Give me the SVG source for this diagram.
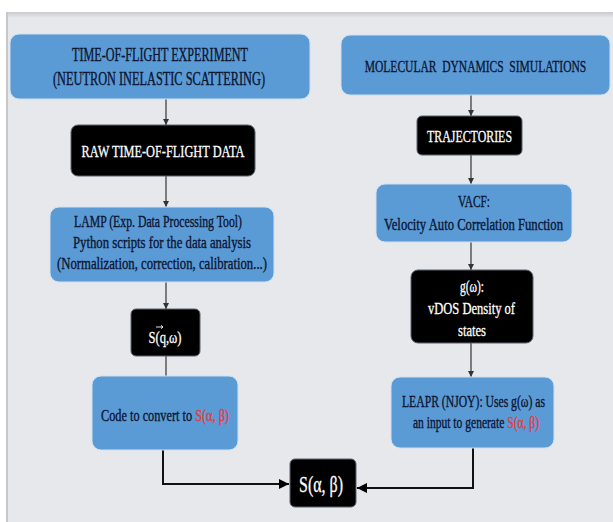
<svg xmlns="http://www.w3.org/2000/svg" width="613" height="522" viewBox="0 0 613 522">
<defs>
<linearGradient id="topShade" x1="0" y1="0" x2="0" y2="1">
<stop offset="0" stop-color="#c9cacd"/>
<stop offset="1" stop-color="#e7e8eb"/>
</linearGradient>
<marker id="ah" markerWidth="6" markerHeight="6" refX="6" refY="3" orient="auto" markerUnits="userSpaceOnUse">
<path d="M0,0 L6,3 L0,6 z" fill="#333"/>
</marker>
<marker id="ahb" markerWidth="10" markerHeight="10" refX="10" refY="5" orient="auto" markerUnits="userSpaceOnUse">
<path d="M0,0 L10,5 L0,10 z" fill="#000"/>
</marker>
</defs>
<style>
.blue{fill:#5b9bd5;stroke:#cfe0f2;stroke-width:1}
.black{fill:#000;stroke:#5a6270;stroke-width:1}
.t{font-family:"Liberation Serif","DejaVu Serif",serif;text-anchor:middle;fill:#0b1533;stroke:#0b1533;stroke-width:0.35}
.w{font-family:"Liberation Serif","DejaVu Serif",serif;text-anchor:middle;fill:#fff;stroke:#fff;stroke-width:0.3}
.red{fill:#e8383d;stroke:#e8383d}
.thin{stroke:#333;stroke-width:1.2;fill:none}
.thick{stroke:#111;stroke-width:2;fill:none}
</style>
<rect x="0" y="0" width="613" height="522" fill="#ffffff"/>
<rect x="6" y="12" width="607" height="510" fill="#e7e8eb"/>
<rect x="6" y="12" width="607" height="6" fill="url(#topShade)"/>
<rect x="6" y="12" width="2" height="510" fill="#c6c7ca"/>

<g id="connectors">
<line class="thin" x1="166" y1="99" x2="166" y2="125" marker-end="url(#ah)"/>
<line class="thin" x1="166" y1="176" x2="166" y2="207" marker-end="url(#ah)"/>
<line class="thin" x1="166" y1="282" x2="166" y2="309" marker-end="url(#ah)"/>
<line class="thin" x1="166" y1="356" x2="166" y2="376"/>
<line class="thin" x1="471" y1="95" x2="471" y2="116" marker-end="url(#ah)"/>
<line class="thin" x1="471" y1="155" x2="471" y2="184" marker-end="url(#ah)"/>
<line class="thin" x1="471" y1="242" x2="471" y2="270" marker-end="url(#ah)"/>
<line class="thin" x1="471" y1="343" x2="471" y2="377" marker-end="url(#ah)"/>
<path class="thick" d="M163,450 V484 H289" marker-end="url(#ahb)"/>
<path class="thick" d="M473,448 V488 H357" marker-end="url(#ahb)"/>
</g>

<g id="tof">
<rect class="blue" x="10" y="34" width="300" height="65" rx="9"/>
<text class="t" x="160" y="61" font-size="18" textLength="176" lengthAdjust="spacingAndGlyphs">TIME-OF-FLIGHT  EXPERIMENT</text>
<text class="t" x="159" y="85" font-size="18" textLength="212" lengthAdjust="spacingAndGlyphs">(NEUTRON INELASTIC SCATTERING)</text>
</g>

<g id="md">
<rect class="blue" x="341" y="35" width="269" height="60" rx="9"/>
<text class="t" transform="translate(475.5,72) scale(0.68,1)" font-size="17" word-spacing="4">MOLECULAR DYNAMICS SIMULATIONS</text>
</g>

<g id="raw">
<rect class="black" x="71" y="125" width="184" height="51" rx="7"/>
<text class="w" x="163" y="157" font-size="17" textLength="163" lengthAdjust="spacingAndGlyphs">RAW TIME-OF-FLIGHT DATA</text>
</g>

<g id="lamp">
<rect class="blue" x="50" y="207" width="224" height="75" rx="9"/>
<text class="t" x="158" y="227" font-size="16.5" textLength="168" lengthAdjust="spacingAndGlyphs">LAMP (Exp. Data Processing Tool)</text>
<text class="t" x="162" y="248" font-size="16.5" textLength="178" lengthAdjust="spacingAndGlyphs">Python scripts for the data analysis</text>
<text class="t" x="162" y="269" font-size="16.5" textLength="210" lengthAdjust="spacingAndGlyphs">(Normalization, correction, calibration...)</text>
</g>

<g id="sq">
<rect class="black" x="131" y="309" width="69" height="47" rx="5"/>
<text class="w" x="165" y="343" font-size="16" textLength="33" lengthAdjust="spacingAndGlyphs">S(q,ω)</text>
<path d="M156,327 H163 M161,325.3 L163,327 L161,328.7" stroke="#fff" stroke-width="0.9" fill="none"/>
</g>

<g id="code">
<rect class="blue" x="92" y="376" width="146" height="74" rx="9"/>
<text class="t" transform="translate(165,421) scale(0.745,1)" font-size="16.5">Code to convert to <tspan class="red">S(α, β)</tspan></text>
</g>

<g id="traj">
<rect class="black" x="417" y="116" width="105" height="39" rx="5"/>
<text class="w" x="469.5" y="142" font-size="17" textLength="85" lengthAdjust="spacingAndGlyphs">TRAJECTORIES</text>
</g>

<g id="vacf">
<rect class="blue" x="376" y="184" width="196" height="58" rx="9"/>
<text class="t" x="474" y="207" font-size="16.5" textLength="32" lengthAdjust="spacingAndGlyphs">VACF:</text>
<text class="t" x="473.5" y="230" font-size="16" textLength="179" lengthAdjust="spacingAndGlyphs">Velocity Auto Correlation Function</text>
</g>

<g id="gw">
<rect class="black" x="411" y="270" width="122" height="73" rx="7"/>
<text class="w" x="472" y="292" font-size="16.5" textLength="24" lengthAdjust="spacingAndGlyphs">g(ω):</text>
<text class="w" x="471.5" y="314" font-size="16.5" textLength="87" lengthAdjust="spacingAndGlyphs">vDOS Density of</text>
<text class="w" x="472" y="336" font-size="16.5" textLength="28" lengthAdjust="spacingAndGlyphs">states</text>
</g>

<g id="leapr">
<rect class="blue" x="391" y="377" width="163" height="71" rx="9"/>
<text class="t" x="473.5" y="407" font-size="16.5" textLength="143" lengthAdjust="spacingAndGlyphs">LEAPR (NJOY): Uses g(ω) as</text>
<text class="t" transform="translate(476,428) scale(0.70,1)" font-size="16.5">an input to generate <tspan class="red">S(α, β)</tspan></text>
</g>

<g id="sab">
<rect class="black" x="290" y="459" width="66" height="48" rx="5"/>
<text class="w" x="321" y="492" font-size="24" textLength="44" lengthAdjust="spacingAndGlyphs">S(α, β)</text>
</g>
</svg>
